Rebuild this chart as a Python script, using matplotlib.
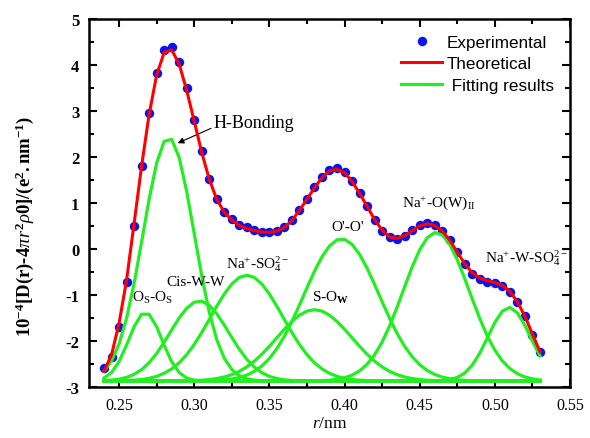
import numpy as np
import matplotlib
matplotlib.use('Agg')
import matplotlib.pyplot as plt
from matplotlib.ticker import MultipleLocator

plt.rcParams['font.family'] = ['Liberation Serif', 'DejaVu Serif']
plt.rcParams['mathtext.fontset'] = 'custom'
plt.rcParams['mathtext.rm'] = 'Liberation Serif'
plt.rcParams['mathtext.it'] = 'Liberation Serif:italic'
plt.rcParams['mathtext.bf'] = 'Liberation Serif:bold'
plt.rcParams['axes.unicode_minus'] = False

# r grid (nm)
r = [0.240, 0.245, 0.250, 0.255, 0.260, 0.265, 0.270, 0.275, 0.280, 0.285,
     0.290, 0.295, 0.300, 0.305, 0.310, 0.315, 0.320, 0.325, 0.330, 0.335,
     0.340, 0.345, 0.350, 0.355, 0.360, 0.365, 0.370, 0.375, 0.380, 0.385,
     0.390, 0.395, 0.400, 0.405, 0.410, 0.415, 0.420, 0.425, 0.430, 0.435,
     0.440, 0.445, 0.450, 0.455, 0.460, 0.465, 0.470, 0.475, 0.480, 0.485,
     0.490, 0.495, 0.500, 0.505, 0.510, 0.515, 0.520, 0.525, 0.530]

experimental = [-2.59, -2.34, -1.70, -0.72, 0.51, 1.81, 2.96, 3.83, 4.32, 4.38,
                4.06, 3.49, 2.80, 2.12, 1.53, 1.09, 0.80, 0.65, 0.52, 0.47,
                0.42, 0.38, 0.36, 0.40, 0.47, 0.63, 0.85, 1.09, 1.34, 1.56,
                1.72, 1.75, 1.68, 1.48, 1.22, 0.94, 0.64, 0.40, 0.25, 0.22,
                0.29, 0.41, 0.52, 0.57, 0.52, 0.40, 0.20, -0.07, -0.33, -0.54,
                -0.65, -0.71, -0.74, -0.80, -0.93, -1.15, -1.46, -1.86, -2.23]

theoretical = [-2.66, -2.30, -1.62, -0.68, 0.55, 1.80, 2.92, 3.78, 4.27, 4.33,
               4.02, 3.45, 2.78, 2.10, 1.52, 1.08, 0.80, 0.63, 0.51, 0.45,
               0.40, 0.37, 0.36, 0.39, 0.47, 0.62, 0.84, 1.08, 1.33, 1.55,
               1.70, 1.73, 1.66, 1.47, 1.21, 0.93, 0.64, 0.41, 0.26, 0.23,
               0.29, 0.40, 0.50, 0.55, 0.51, 0.39, 0.19, -0.07, -0.32, -0.52,
               -0.63, -0.69, -0.73, -0.79, -0.92, -1.15, -1.46, -1.85, -2.23]

# gaussian fit components
comp_center = [0.2675, 0.283, 0.3035, 0.335, 0.380, 0.398, 0.461, 0.5095]
comp_peak = [-1.38, 2.42, -1.13, -0.57, -1.32, 0.22, 0.36, -1.27]
comp_sigma = [0.011, 0.017, 0.0195, 0.024, 0.025, 0.025, 0.022, 0.014]
baseline = -2.87

fig = plt.figure(figsize=(5.9, 4.39), dpi=100)
ax = fig.add_axes([0.1508, 0.1162, 0.8153, 0.8383])

rr = np.array(r)
green = '#22ee22'
for c, p, s in zip(comp_center, comp_peak, comp_sigma):
    yy = baseline + (p - baseline) * np.exp(-(rr - c) ** 2 / (2 * s ** 2))
    ax.plot(rr, yy, color=green, lw=2.3, zorder=3)

ax.plot(r, experimental, 'o', color='#0a14f0', ms=6.8, mec='none', zorder=2,
        label='Experimental')
ax.plot(r, theoretical, color='#ff0000', lw=2.2, zorder=4, label='Theoretical')
ax.plot([], [], color=green, lw=2.3, label=' Fitting results')

ax.set_xlim(0.23, 0.55)
ax.set_ylim(-3, 5)
ax.xaxis.set_major_locator(MultipleLocator(0.05))
ax.xaxis.set_minor_locator(MultipleLocator(0.025))
ax.yaxis.set_major_locator(MultipleLocator(1))
ax.yaxis.set_minor_locator(MultipleLocator(0.5))
ax.xaxis.set_major_formatter(plt.FormatStrFormatter('%.2f'))
ax.tick_params(which='both', direction='in', top=True, right=True, width=1.5)
ax.tick_params(which='major', length=6)
ax.tick_params(which='minor', length=3.5)
ax.tick_params(axis='x', labelsize=11.5, pad=7)
ax.tick_params(axis='y', labelsize=12, pad=7)
for lab in ax.get_yticklabels():
    lab.set_fontweight('bold')
for sp in ax.spines.values():
    sp.set_linewidth(1.8)

ax.set_xlabel(r'$\mathit{r}$/nm', fontsize=12.5, labelpad=2)
ax.set_ylabel(r'$\mathbf{10^{-4}[D(r)}$-$\mathbf{4}\mathit{\pi r}^{\mathbf{2}}\mathit{\rho}'
              r'\mathbf{0]/(e^{2}.nm^{-1})}$', fontsize=13.5, fontweight='bold')
ax.yaxis.set_label_coords(-0.11, 0.44)

leg = ax.legend(loc='upper right', bbox_to_anchor=(1.0, 1.0), frameon=False,
                prop={'family': 'Liberation Sans', 'size': 12.3},
                handlelength=2.35, handletextpad=0.3, labelspacing=0.36,
                borderaxespad=0.55, numpoints=1)

fs = 11
ax.text(0.272, -1.04, r'O$_\mathregular{S}$-O$_\mathregular{S}$', fontsize=fs, ha='center', va='center')
ax.text(0.301, -0.70, 'Cis-W-W', fontsize=fs, ha='center', va='center')
ax.text(0.342, -0.30, r'Na$^\mathregular{+}$-SO$_\mathregular{4}^\mathregular{2-}$', fontsize=fs, ha='center', va='center')
ax.text(0.391, -1.04, r'S-O$_\mathbf{W}$', fontsize=fs, ha='center', va='center')
ax.text(0.402, 0.48, "O'-O'", fontsize=fs, ha='center', va='center')
ax.text(0.463, 1.02, r'Na$^\mathregular{+}$-O(W)$_\mathregular{II}$', fontsize=fs, ha='center', va='center')
ax.text(0.521, -0.17, r'Na$^\mathregular{+}$-W-SO$_\mathregular{4}^\mathregular{2-}$', fontsize=fs, ha='center', va='center')
ax.annotate('H-Bonding', xy=(0.289, 2.30), xytext=(0.313, 2.76), fontsize=13,
            ha='left', va='center',
            arrowprops=dict(arrowstyle='-|>', color='black', lw=0.8,
                            mutation_scale=9, shrinkA=0, shrinkB=0,
                            relpos=(0.0, 0.2)))

fig.savefig('out.png', dpi=100)
